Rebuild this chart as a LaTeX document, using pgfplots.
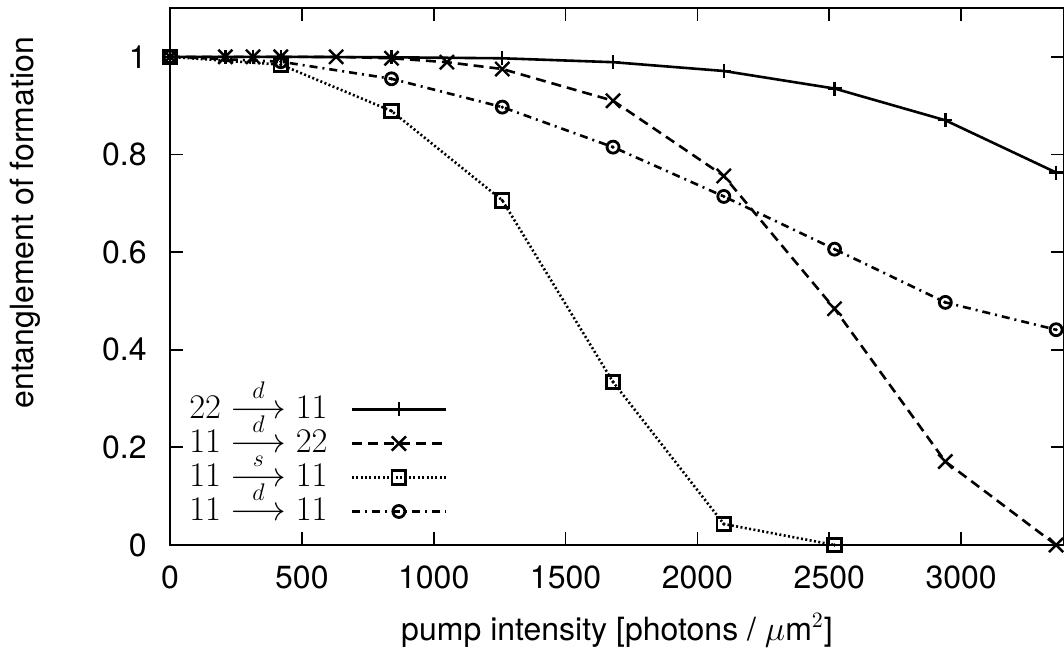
\documentclass[border=0pt]{standalone}
\usepackage[no-math]{fontspec}
\setmainfont{TeX Gyre Heros}
\usepackage{amsmath}
\usepackage{pgfplots}
\usepackage{pgfplotstable}
\pgfplotsset{compat=1.18}

% 22 -d-> 11
\pgfplotstableread{
x y
0 1.000
210 1.000
315 1.000
420 1.000
840 0.999
1260 0.997
1680 0.989
2100 0.971
2520 0.935
2940 0.870
3360 0.763
}\dtwoone
% 11 -d-> 22
\pgfplotstableread{
x y
0 1.000
210 1.000
315 1.000
420 1.000
630 1.000
840 0.997
1050 0.989
1260 0.975
1680 0.910
2100 0.756
2520 0.484
2940 0.171
3360 0.000
}\doneTwo
% 11 -s-> 11
\pgfplotstableread{
x y
0 1.000
420 0.984
840 0.889
1260 0.706
1680 0.334
2100 0.043
2520 0.000
}\sOne
% 11 -d-> 11
\pgfplotstableread{
x y
0 1.000
420 0.990
840 0.955
1260 0.897
1680 0.815
2100 0.714
2520 0.606
2940 0.497
3360 0.441
}\dOne

\begin{document}
\begin{tikzpicture}[font=\fontsize{16}{19}\selectfont]
\begin{axis}[
    name=ax,
    scale only axis,
    width=447pt, height=268.5pt,
    xmin=0, xmax=3390,
    ymin=0, ymax=1.1,
    xtick={0,500,...,3000},
    ytick={0,0.2,0.4,0.6,0.8,1},
    /pgf/number format/1000 sep={},
    /pgf/number format/assume math mode=true,
    tick align=inside,
    major tick length=6.5pt,
    every tick/.style={black, line width=0.9pt},
    axis line style={line width=0.9pt},
    xticklabel style={anchor=north, inner sep=0pt, yshift=-10pt},
    yticklabel style={anchor=east, inner sep=0pt, xshift=-11.5pt},
    xlabel={pump intensity [photons / $\mu$m$^2$]},
    ylabel={entanglement of formation},
    xlabel style={at={(axis description cs:0.5,0)}, anchor=base, yshift=-47.5pt},
    ylabel style={at={(axis description cs:-0.162,0.6)}, anchor=center},
    clip=false,
    legend plot pos=right,
    legend cell align=left,
    legend image code/.code={
        \draw[#1, mark repeat=2, mark phase=2] plot coordinates {(0pt,0pt) (23.5pt,0pt) (47pt,0pt)};
    },
    legend style={draw=none, fill=none, at={(axis description cs:0.02,0.03)},
        anchor=south west, inner sep=0pt, column sep=11pt, row sep=0pt,
        font=\fontsize{17.28}{17.28}\selectfont,
        nodes={inner sep=0.5pt, text height=12.5pt, text depth=3.5pt}},
]
\addplot[black, line width=1.3pt, mark=+, mark size=3.5pt,
    mark options={solid, line width=1.2pt}] table {\dtwoone};
\addplot[black, line width=1.3pt, dash pattern=on 5pt off 3pt, mark=x, mark size=5pt,
    mark options={solid, line width=1.2pt}] table {\doneTwo};
\addplot[black, line width=1.3pt, dash pattern=on 1pt off 1.2pt, mark=square, mark size=3.4pt,
    mark options={solid, line width=1.4pt}] table {\sOne};
\addplot[black, line width=1.3pt, dash pattern=on 4pt off 2.5pt on 1pt off 2.5pt, mark=o, mark size=3pt,
    mark options={solid, line width=1.4pt}] table {\dOne};
\addplot[only marks, forget plot, mark=*, mark size=0.6pt, black] table {\sOne};
\addplot[only marks, forget plot, mark=*, mark size=0.6pt, black] table {\dOne};
\legend{$22 \stackrel{d}{\longrightarrow} 11$, $11 \stackrel{d}{\longrightarrow} 22$, $11 \stackrel{s}{\longrightarrow} 11$, $11 \stackrel{d}{\longrightarrow} 11$}
\end{axis}
\pgfresetboundingbox
\path[use as bounding box] ([xshift=-85pt,yshift=-51.5pt]ax.south west) rectangle ([yshift=4pt]ax.north east);
\end{tikzpicture}
\end{document}
